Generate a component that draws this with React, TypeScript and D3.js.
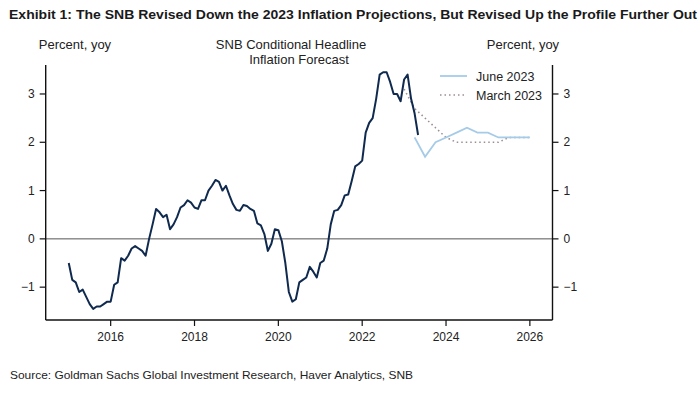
import * as d3 from 'd3';

// Swiss headline CPI, % y/y, monthly Jan 2015 - May 2023
const cpi2015 = [-0.5, -0.85, -0.9, -1.1, -1.05, -1.2, -1.35, -1.45, -1.4, -1.4, -1.35, -1.3];
const cpi2016 = [-1.3, -0.95, -0.9, -0.4, -0.45, -0.35, -0.2, -0.15, -0.2, -0.25, -0.35, 0.0];
const cpi2017 = [0.3, 0.62, 0.55, 0.45, 0.5, 0.2, 0.3, 0.45, 0.65, 0.7, 0.8, 0.75];
const cpi2018 = [0.65, 0.62, 0.8, 0.8, 1.0, 1.1, 1.22, 1.18, 1.0, 1.1, 0.9, 0.72];
const cpi2019 = [0.6, 0.58, 0.7, 0.68, 0.62, 0.58, 0.32, 0.28, 0.1, -0.25, -0.1, 0.2];
const cpi2020 = [0.18, -0.05, -0.5, -1.1, -1.3, -1.25, -0.9, -0.85, -0.8, -0.58, -0.68, -0.8];
const cpi2021 = [-0.5, -0.45, -0.2, 0.3, 0.58, 0.6, 0.7, 0.9, 0.92, 1.2, 1.5, 1.55];
const cpi2022 = [1.62, 2.2, 2.4, 2.5, 2.9, 3.4, 3.45, 3.45, 3.25, 3.0, 3.0, 2.85];
const cpi2023 = [3.3, 3.4, 2.9, 2.6, 2.15];

// SNB conditional forecasts, quarterly (plotted at quarter start)
const juneQuarters = [2023.25, 2023.5, 2023.75, 2024, 2024.25, 2024.5, 2024.75, 2025, 2025.25, 2025.5, 2025.75, 2026];
const juneValues = [2.1, 1.7, 2.0, 2.1, 2.2, 2.3, 2.2, 2.2, 2.1, 2.1, 2.1, 2.1];
const marchQuarters = [2023, 2023.25, 2023.5, 2023.75, 2024, 2024.25, 2024.5, 2024.75, 2025, 2025.25, 2025.5, 2025.75, 2026];
const marchValues = [3.1, 2.7, 2.5, 2.3, 2.1, 2.0, 2.0, 2.0, 2.0, 2.0, 2.1, 2.1, 2.1];

const xTicks = [2016, 2018, 2020, 2022, 2024, 2026];
const yTicks = [-1, 0, 1, 2, 3];

type Pt = { t: number; v: number };

const W = 700;
const H = 394;
const FONT = '"Liberation Sans", Arial, sans-serif';

export default function App() {
  const monthly = [cpi2015, cpi2016, cpi2017, cpi2018, cpi2019, cpi2020, cpi2021, cpi2022, cpi2023].flat();
  const actual: Pt[] = monthly.map((v, i) => ({ t: 2015 + i / 12, v }));
  const june: Pt[] = juneQuarters.map((t, i) => ({ t, v: juneValues[i] }));
  const march: Pt[] = marchQuarters.map((t, i) => ({ t, v: marchValues[i] }));

  const x = d3.scaleLinear().domain([2014.45, 2026.54]).range([45.7, 552.5]);
  const y = d3.scaleLinear().domain([-1.68, 3.6]).range([320, 65]);

  const line = d3
    .line<Pt>()
    .x((d) => x(d.t))
    .y((d) => y(d.v));

  const [x0, x1] = x.range();
  const [yb, yt] = y.range();

  return (
    <svg width={W} height={H} style={{ position: 'absolute', left: 0, top: 0, background: '#fff' }} fontFamily={FONT}>
      <text x={9} y={19} fontSize={13.5} fontWeight="bold" fill="#1a1a1a" textLength={688} lengthAdjust="spacingAndGlyphs">
        Exhibit 1: The SNB Revised Down the 2023 Inflation Projections, But Revised Up the Profile Further Out
      </text>

      <text x={75} y={49} fontSize={13} fill="#222" textAnchor="middle">Percent, yoy</text>
      <text x={523} y={49} fontSize={13} fill="#222" textAnchor="middle">Percent, yoy</text>
      <text x={291} y={49} fontSize={13} fill="#222" textAnchor="middle">SNB Conditional Headline</text>
      <text x={299} y={64} fontSize={13} fill="#222" textAnchor="middle">Inflation Forecast</text>

      {/* zero line */}
      <line x1={x0} x2={x1} y1={y(0)} y2={y(0)} stroke="#555" strokeWidth={1} />

      {/* series */}
      <path d={line(march) ?? ''} fill="none" stroke="#9c8e92" strokeWidth={1.6} strokeDasharray="1.5,3" />
      <path d={line(june) ?? ''} fill="none" stroke="#a5cbe8" strokeWidth={1.8} />
      <path d={line(actual) ?? ''} fill="none" stroke="#0f2a4e" strokeWidth={2} strokeLinejoin="round" />

      {/* axes */}
      <line x1={x0} x2={x0} y1={yt} y2={yb} stroke="#111" strokeWidth={1.4} />
      <line x1={x1} x2={x1} y1={yt} y2={yb} stroke="#111" strokeWidth={1.4} />
      <line x1={x0} x2={x1} y1={yb} y2={yb} stroke="#111" strokeWidth={1.4} />

      {yTicks.map((t) => (
        <g key={t}>
          <line x1={x0 - 6} x2={x0} y1={y(t)} y2={y(t)} stroke="#111" strokeWidth={1.2} />
          <line x1={x1} x2={x1 + 6} y1={y(t)} y2={y(t)} stroke="#111" strokeWidth={1.2} />
          <text x={x0 - 11} y={y(t)} dy="0.35em" fontSize={12} fill="#222" textAnchor="end">
            {t < 0 ? `\u2212${Math.abs(t)}` : t}
          </text>
          <text x={x1 + 11} y={y(t)} dy="0.35em" fontSize={12} fill="#222" textAnchor="start">
            {t < 0 ? `\u2212${Math.abs(t)}` : t}
          </text>
        </g>
      ))}

      {xTicks.map((t) => (
        <g key={t}>
          <line x1={x(t)} x2={x(t)} y1={yb} y2={yb + 6} stroke="#111" strokeWidth={1.2} />
          <text x={x(t)} y={yb + 21} fontSize={12} fill="#222" textAnchor="middle">{t}</text>
        </g>
      ))}

      {/* legend */}
      <line x1={440} x2={467} y1={76} y2={76} stroke="#a5cbe8" strokeWidth={1.8} />
      <text x={476} y={80.5} fontSize={12.5} fill="#222">June 2023</text>
      <line x1={440} x2={467} y1={95} y2={95} stroke="#9c8e92" strokeWidth={1.6} strokeDasharray="1.5,3" />
      <text x={476} y={99.5} fontSize={12.5} fill="#222">March 2023</text>

      <text x={10} y={379} fontSize={11.5} fill="#222" textLength={403} lengthAdjust="spacingAndGlyphs">
        Source: Goldman Sachs Global Investment Research, Haver Analytics, SNB
      </text>
    </svg>
  );
}
